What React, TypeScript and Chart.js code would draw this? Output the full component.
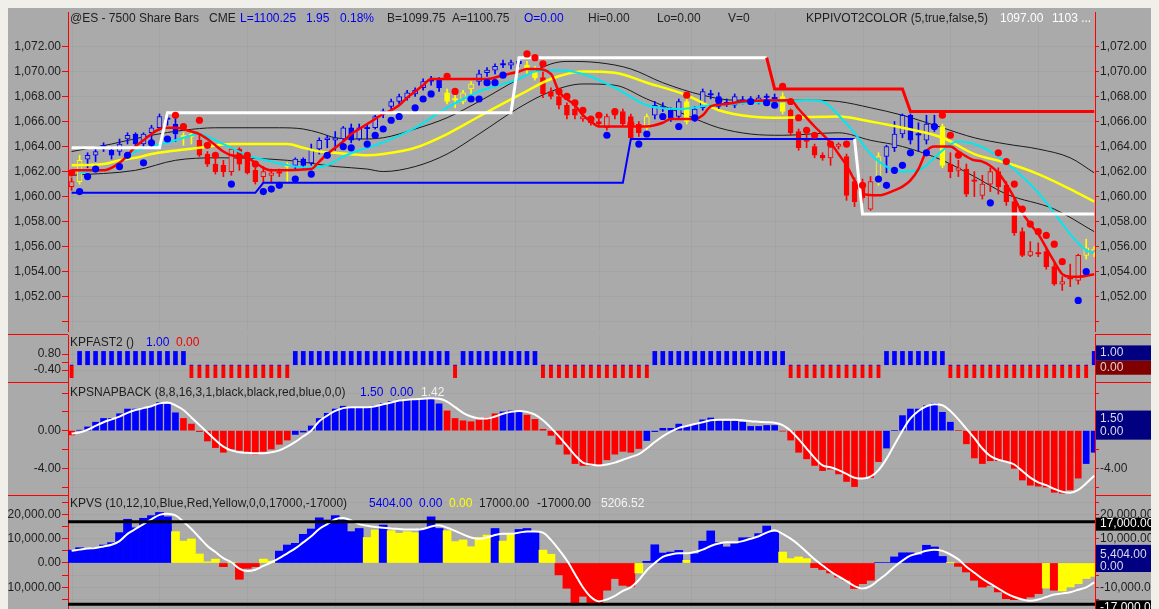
import React, { useEffect, useRef } from 'react';
import { Chart, registerables } from 'chart.js';
Chart.register(...registerables);

// ---------------- data ----------------
const candleOpen = [1060.8,1061.2,1063.0,1063.3,1064.0,1063.7,1063.6,1064.6,1065.0,1064.2,
 1065.1,1065.5,1066.2,1065.8,1064.8,1065.0,1064.5,1063.4,1062.6,1062.5,
 1062.0,1063.8,1063.2,1062.1,1061.6,1061.7,1061.9,1062.4,1062.5,1063.0,
 1062.7,1063.8,1064.55,1064.5,1064.6,1065.5,1064.6,1065.45,1065.5,1066.75,
 1067.2,1067.6,1067.9,1068.2,1068.7,1069.25,1069.3,1068.3,1067.75,1067.6,
 1068.6,1069.2,1069.9,1070.1,1070.55,1070.5,1070.8,1070.5,1070.0,1069.5,
 1068.4,1068.0,1067.3,1067.0,1066.2,1066.2,1066.0,1065.5,1066.5,1066.8,
 1066.4,1065.8,1065.5,1066.5,1067.2,1066.9,1066.4,1067.6,1066.2,1067.1,
 1068.15,1068.0,1067.45,1067.3,1067.65,1067.65,1067.6,1067.95,1067.85,1068.0,
 1066.9,1065.2,1064.45,1064.0,1063.3,1063.1,1064.0,1063.2,1061.2,1061.1,
 1059.0,1061.2,1063.2,1063.9,1065.0,1066.5,1064.95,1064.5,1065.8,1065.6,
 1062.6,1062.1,1062.2,1061.25,1060.1,1061.0,1062.0,1060.9,1059.6,1057.2,
 1055.3,1055.45,1055.6,1054.4,1053.0,1053.45,1053.3,1055.3,1055.5];
const candleHigh = [1061.5,1063.3,1063.5,1063.9,1064.3,1064.0,1064.6,1065.1,1065.1,1065.1,
 1065.7,1066.6,1066.6,1066.4,1065.1,1065.2,1064.9,1063.6,1063.1,1062.9,
 1063.9,1063.9,1063.4,1062.3,1062.4,1062.2,1062.2,1062.7,1063.1,1063.1,
 1064.2,1064.7,1064.9,1065.2,1065.6,1065.8,1065.8,1065.8,1066.5,1067.0,
 1067.8,1068.2,1068.5,1068.7,1069.4,1069.6,1069.5,1068.6,1068.2,1068.5,
 1069.2,1070.1,1070.3,1070.6,1070.9,1070.9,1071.0,1070.8,1070.4,1070.0,
 1068.7,1068.2,1067.5,1067.3,1066.6,1066.4,1066.2,1066.6,1067.0,1067.0,
 1066.6,1066.0,1066.6,1067.6,1067.5,1067.1,1067.8,1067.8,1067.2,1068.6,
 1068.5,1068.3,1067.8,1068.2,1068.0,1068.0,1068.1,1068.2,1068.2,1068.3,
 1067.0,1065.4,1065.0,1064.2,1063.5,1064.1,1064.3,1063.4,1061.5,1061.4,
 1061.6,1063.5,1064.1,1066.0,1066.6,1066.6,1065.9,1066.5,1066.5,1065.8,
 1063.5,1062.9,1062.6,1062.0,1061.7,1062.3,1062.3,1061.2,1059.9,1057.5,
 1056.4,1056.3,1055.9,1054.7,1053.6,1054.6,1055.4,1056.6,1056.0];
const candleLow = [1060.5,1061.0,1062.3,1062.8,1063.6,1063.0,1063.3,1064.2,1064.0,1064.0,
 1064.5,1065.3,1065.7,1064.4,1064.1,1064.2,1063.2,1062.4,1061.8,1061.6,
 1061.7,1062.1,1061.8,1061.0,1061.1,1061.2,1061.6,1061.2,1062.2,1062.2,
 1062.5,1063.4,1063.9,1063.7,1064.5,1064.3,1064.5,1064.6,1065.4,1066.3,
 1067.0,1067.4,1067.7,1068.0,1068.5,1068.9,1068.4,1067.4,1067.1,1067.4,
 1068.2,1068.9,1069.6,1069.8,1070.3,1070.2,1070.4,1069.8,1069.3,1067.9,
 1067.8,1067.0,1066.2,1066.2,1066.0,1065.7,1065.6,1065.3,1066.2,1065.6,
 1064.5,1064.8,1065.2,1066.2,1066.8,1066.0,1066.2,1065.8,1066.0,1066.9,
 1067.8,1067.0,1067.2,1067.1,1067.4,1067.4,1067.4,1067.7,1067.6,1066.6,
 1064.9,1063.7,1063.9,1063.1,1062.9,1062.5,1063.8,1059.7,1059.2,1059.5,
 1058.9,1060.9,1061.9,1063.6,1064.7,1064.2,1063.6,1064.2,1065.2,1062.3,
 1061.5,1061.6,1060.0,1060.0,1059.8,1060.4,1060.2,1059.3,1056.9,1055.2,
 1055.2,1055.2,1054.2,1052.9,1052.5,1052.8,1053.0,1055.0,1055.2];
const candleClose = [1061.2,1062.9,1063.3,1063.6,1064.05,1063.3,1064.2,1064.9,1064.2,1065.0,
 1065.5,1066.4,1066.25,1065.0,1064.85,1064.8,1063.3,1062.6,1062.0,1062.0,
 1063.8,1062.6,1061.9,1061.2,1062.0,1061.9,1061.95,1062.6,1063.0,1062.5,
 1063.8,1064.5,1064.7,1064.7,1065.5,1064.5,1065.5,1065.5,1066.4,1066.8,
 1067.6,1068.0,1068.3,1068.5,1069.2,1069.3,1068.7,1067.6,1067.8,1068.3,
 1069.0,1069.8,1070.1,1070.4,1070.6,1070.7,1070.6,1070.1,1069.5,1068.2,
 1068.0,1067.3,1066.5,1066.5,1066.4,1065.9,1065.8,1066.4,1066.7,1065.8,
 1064.7,1065.1,1066.4,1067.3,1067.0,1066.3,1067.6,1066.0,1067.0,1068.4,
 1068.2,1067.2,1067.5,1068.0,1067.7,1067.7,1067.9,1068.0,1067.9,1066.8,
 1065.1,1063.9,1064.5,1063.3,1063.1,1064.0,1064.2,1060.1,1059.6,1059.9,
 1061.2,1063.2,1064.0,1065.0,1066.5,1064.5,1065.0,1065.8,1065.5,1062.5,
 1062.0,1062.3,1060.2,1061.3,1061.0,1062.0,1060.8,1059.6,1057.1,1055.3,
 1055.6,1055.5,1054.4,1053.0,1053.2,1053.5,1055.3,1055.9,1055.8];
const candleColor = ('rybbbbbbbb' + 'bbbbyyrrrr' + 'rrrrrrrybb' + 'bbbbbbbbbb' + 'bbbbbbbyyy' +
  'ybbbbbbyyr' + 'rrrrrrrrrr' + 'rrybbbbybb' + 'bbbbbbbbby' + 'rrrrrrrrrr' + 'rybbbbbbby' +
  'rrrrrrrrrr' + 'rrrrrrryy').split('');

// overlays: [bar, price]
const redTrend = [[0,1062.1],[4,1062.1],[5,1062.3],[6,1062.7],[7,1063.3],[8,1064],[9,1064.5],[10,1065],[11,1065.4],[12,1065.5],[13,1065.5],[15,1065.2],[16,1065],[17,1064.6],[18,1064.1],[19,1063.6],[20,1063.3],[22,1063.1],[23,1062.7],[24,1062.3],[25,1062.1],[30,1062.2],[31,1062.8],[32,1063.4],[33,1063.9],[34,1064.4],[35,1065],[36,1065.4],[37,1065.8],[38,1066.2],[39,1066.6],[40,1066.9],[41,1067.3],[42,1067.9],[43,1068.4],[44,1068.9],[45,1069.4],[52,1069.4],[54,1069.7],[56,1070],[57,1070.2],[58,1070.2],[60,1069.8],[61,1068.4],[63,1067.3],[64,1066.5],[65,1066],[66,1065.6],[72,1065.6],[74,1065.9],[75,1066.2],[78,1066.2],[79,1066.5],[80,1067.2],[82,1067.4],[84,1067.6],[90,1067.7],[91,1067],[93,1065.6],[95,1064.3],[96,1063.4],[97,1062.5],[98,1061.3],[99,1060.2],[101,1060.1],[103,1060.5],[104,1060.8],[105,1061.3],[106,1062.2],[107,1063.6],[108,1064],[110,1064],[111,1063.6],[113,1062.9],[114,1062.8],[116,1061.9],[117,1061],[118,1059.9],[119,1058.7],[120,1057.8],[121,1057],[122,1055.9],[123,1054.8],[124,1053.8],[125,1053.6],[126,1053.6],[128,1053.8]];
const cyanLine = [[1,1061.9],[3,1062.1],[5,1062.3],[6,1062.7],[8,1063.6],[10,1064],[12,1064.3],[14,1064.7],[16,1065],[17,1064.8],[18,1064.5],[20,1063.9],[22,1063.3],[25,1062.8],[28,1062.4],[30,1062.3],[32,1062.5],[34,1063.2],[36,1063.7],[38,1064.1],[43,1065.5],[47,1067.1],[51,1068.4],[56,1069.4],[58,1070],[61,1070.1],[64,1069.8],[68,1068.7],[72,1067.3],[76,1067],[80,1067.3],[85,1067.5],[89,1067.6],[92,1067.7],[94,1067.6],[96,1066.5],[98,1065.1],[100,1063.4],[102,1062.4],[104,1062],[106,1062.1],[108,1063.1],[110,1064.2],[111,1064.4],[113,1064.2],[115,1063.6],[117,1062.7],[119,1061.6],[121,1060.3],[123,1058.7],[125,1057],[127,1055.7],[128,1055.5]];
const yellowLine = [[0,1062.5],[4,1062.6],[6,1062.9],[8,1063.1],[10,1063.4],[12,1063.6],[16,1063.9],[20,1064.2],[25,1064.2],[27,1064.2],[29,1063.9],[31,1063.6],[33,1063.5],[37,1063.3],[39,1063.4],[43,1063.9],[47,1065],[51,1066.4],[56,1068.1],[60,1069.4],[64,1070],[68,1069.9],[72,1069.1],[77,1068.1],[81,1066.9],[85,1066.4],[89,1066.3],[96,1066.4],[100,1066],[104,1065.5],[109,1064.7],[113,1063.4],[117,1062.7],[121,1061.8],[125,1060.6],[128,1059.6]];
const bandUpper = [[0,1063.6],[5,1064.2],[10,1064.9],[14,1065.3],[18,1065.5],[26,1065.5],[29,1065.4],[31,1065.1],[33,1064.7],[36,1064.6],[39,1064.7],[43,1065.4],[47,1066.3],[51,1067.6],[56,1069.4],[60,1070.6],[62,1070.8],[66,1070.7],[70,1070.2],[74,1069.1],[79,1068.1],[83,1067.7],[88,1067.7],[92,1067.7],[96,1067.6],[100,1067.1],[104,1066.5],[109,1065.5],[113,1064.7],[117,1064.2],[121,1063.8],[125,1063.1],[128,1061.9]];
const bandLower = [[0,1061.7],[8,1062.1],[13,1062.9],[18,1063.1],[27,1062.9],[33,1062.4],[37,1062.2],[39,1062],[43,1062.4],[47,1063.4],[51,1065],[56,1067.1],[60,1068.4],[64,1069],[68,1068.9],[72,1067.8],[77,1066.5],[81,1065.5],[85,1065],[89,1064.9],[96,1065.1],[100,1064.5],[104,1064],[109,1062.9],[113,1061.6],[117,1060.2],[123,1059],[128,1057.2]];
const whiteStepA = [[0,1063.9],[11,1063.9],[12,1066.7],[55,1066.7],[56,1071.1],[87,1071.1]];
const whiteStepB = [[98,1064.6],[99,1058.6],[128,1058.6]];
const blueStep = [[0,1060.3],[23,1060.3],[24,1061.1],[69,1061.1],[70,1064.6],[98,1064.6]];
const redPivot = [[87,1071.1],[88,1068.6],[104,1068.6],[105,1066.8],[128,1066.8]];
const blueDots = [[1,1060.4],[2,1061.6],[3,1062.2],[6,1062.4],[7,1063.3],[9,1062.7],[10,1064.3],[12,1064.6],[20,1061],[24,1060.4],[25,1060.6],[26,1060.9],[28,1061.4],[30,1061.8],[32,1063.3],[34,1064],[35,1063.9],[37,1064.2],[38,1064.9],[39,1065.4],[40,1066.1],[41,1066.4],[43,1067.1],[44,1067.8],[45,1068.2],[50,1067.8],[51,1067.8],[52,1069.1],[53,1069.1],[54,1069.7],[67,1064.9],[71,1064.2],[72,1065],[74,1066.4],[76,1065.6],[78,1066.3],[81,1067.7],[85,1067.6],[87,1067.5],[88,1067.3],[101,1061.4],[102,1060.9],[103,1062.1],[104,1062.5],[105,1063.5],[107,1063.5],[108,1065.6],[115,1059.5],[126,1051.7],[127,1054]];
const redDots = [[0,1061.9],[13,1066.5],[14,1065.6],[16,1066.1],[17,1064.1],[18,1063.3],[21,1063.2],[22,1063.3],[23,1062.6],[47,1069.6],[48,1068.4],[57,1071.4],[58,1071.1],[59,1070.6],[61,1068.4],[62,1068],[63,1067.5],[64,1066.9],[65,1066.2],[66,1066.5],[68,1066.8],[70,1065.8],[77,1068.1],[89,1068.8],[90,1067.6],[91,1066.3],[92,1065.3],[93,1064.9],[95,1064.2],[97,1064.2],[99,1060.9],[109,1066.5],[110,1064.9],[111,1063.3],[116,1063.5],[117,1062.8],[118,1061],[119,1059],[120,1057.8],[121,1057.2],[122,1056.9],[123,1056.2],[124,1054.8]];

const fastColor = ('rbbbbbbbbb' + 'bbbbbrrrrr' + 'rrrrrrrrbb' + 'bbbbbbbbbb' + 'bbbbbbbbrb' +
  'bbbbbbbbbr' + 'rrrrrrrrrr' + 'rrrbbbbbbb' + 'bbbbbbbbbb' + 'rrrrrrrrrr' + 'rrbbbbbbbb' +
  'rrrrrrrrrr' + 'rrrrrrrrb').split('');

const snapValues = [-0.45,0.05,0.4,0.9,1.3,1.3,1.8,2.3,2.3,2.4,
 2.6,3.0,2.8,1.9,1.3,0.7,-0.1,-1.1,-1.8,-2.3,
 -1.95,-2.1,-2.3,-2.5,-2.2,-1.95,-1.45,-1.0,-0.4,-0.15,
 0.5,1.3,1.85,2.3,2.6,2.5,2.5,2.5,2.65,2.9,
 3.1,3.25,3.35,3.25,3.35,3.35,2.85,2.1,1.3,1.05,
 0.95,1.15,1.4,1.8,2.0,2.1,2.0,1.65,1.2,0.15,
 -0.5,-1.45,-2.5,-3.5,-3.7,-3.7,-3.7,-3.1,-2.5,-2.2,
 -2.3,-1.9,-1.05,-0.1,0.25,0.25,0.7,0.5,0.65,1.15,
 1.35,1.05,1.0,1.0,0.9,0.45,0.45,0.55,0.55,-0.05,
 -1.0,-2.3,-3.0,-3.7,-4.25,-4.1,-4.6,-5.4,-5.95,-5.0,
 -5.0,-3.3,-1.85,0,1.6,2.3,2.3,2.65,2.9,1.95,
 0.9,0,-1.4,-2.9,-3.5,-3.2,-3.2,-3.3,-4.0,-5.25,
 -5.8,-5.9,-6.0,-6.55,-6.65,-6.3,-5.05,-3.5,-2.3];
const snapColor = ('rbbbbbbbbb' + 'bbbbrrrrrr' + 'rrrrrrrrbb' + 'bbbbbbbbbb' + 'bbbbbbbrrr' +
  'rrrrbbbrrr' + 'rrrrrrrrrr' + 'rrbbbbbbbb' + 'bbbbbbbbbr' + 'rrrrrrrrrr' + 'rrbbbbbbbb' +
  'brrrrrrrrr' + 'rrrrrrrbb').split('');
const snapSignal = [-0.3,-0.2,0.1,0.5,0.9,1.2,1.5,1.9,2.2,2.4,
 2.6,2.9,3.0,2.7,2.2,1.4,0.6,-0.2,-1.0,-1.7,
 -2.1,-2.3,-2.35,-2.4,-2.4,-2.3,-2.1,-1.7,-1.2,-0.6,
 0.0,1.0,1.6,2.1,2.4,2.5,2.5,2.5,2.6,2.8,
 3.0,3.2,3.3,3.35,3.4,3.45,3.4,3.1,2.5,1.9,
 1.5,1.3,1.3,1.5,1.8,2.0,2.1,2.0,1.7,1.1,
 0.3,-0.6,-1.6,-2.6,-3.4,-3.6,-3.7,-3.6,-3.4,-3.1,
 -2.8,-2.5,-1.9,-1.2,-0.6,-0.1,0.3,0.5,0.7,0.9,
 1.1,1.15,1.15,1.15,1.1,1.0,0.95,0.9,0.85,0.6,
 0.0,-0.9,-1.9,-2.9,-3.7,-3.9,-4.2,-4.6,-5.0,-5.1,
 -4.9,-4.2,-3.0,-1.5,0.0,1.3,2.1,2.6,2.8,2.7,
 2.1,1.2,0.2,-0.8,-1.9,-2.7,-3.1,-3.3,-3.6,-4.3,
 -5.0,-5.5,-5.8,-6.2,-6.5,-6.6,-6.3,-5.6,-4.8];

// KPVS in thousands
const kpvsK = [5.3,6.3,6.0,6.4,7.4,8.4,12.5,18,14.5,18.4,
 19.5,20.8,19,12.9,9,9.9,3.7,0.5,1.6,-1.5,
 0.2,-6.7,-2.2,-1.5,1.6,0.8,4.9,7.4,8.1,11.8,
 14,18.6,17.7,19.5,17.7,12.9,14.2,10.5,13.6,15.6,
 13.3,12.2,12.9,12.5,14.2,19,14.2,13.3,8.8,9.5,
 6.7,10.5,11.5,14.2,9,11.8,13.8,14.2,12.9,5.3,
 3.6,-4.9,-10.4,-17.3,-13.7,-16.4,-16.4,-11.2,-6.4,-9.2,
 -9.6,-4.1,0.7,7.5,4.1,4.5,5.2,1.1,3.8,9,
 13.2,8.4,6.6,7.9,10.4,10.4,12.1,15.2,12.7,4.5,
 1.8,2.5,1.8,-1.9,-2.7,-4.1,-5.8,-7.1,-10.5,-8.5,
 -7.1,0.2,0.2,2.5,4.2,4.2,3.4,7.3,6.6,2.7,
 0.3,-1.4,-3.7,-7.1,-9.9,-9.2,-11.9,-14.7,-15.1,-15.1,
 -14,-12.6,-10.3,-11.2,-11.5,-9.9,-8.5,-6.4,-5.5];
const kpvsColor = ('bbbbbbbbbb' + 'bbbyyyyyyr' + 'yrrryybbbb' + 'bbbbbbbyyb' + 'yyyybbbyyy' +
  'yyybyybbby' + 'yrrrrrrrrr' + 'rybbbbbybb' + 'bbbbbbbbby' + 'yyyrrrrrrr' + 'rbbbbbbbbb' +
  'yrrrrrrrrr' + 'rryryyyyy').split('');
const kpvsSignalK = [5.0,5.5,6.0,6.2,6.8,7.5,9.0,12.0,14.0,16.0,
 18.0,19.8,20.3,19.6,17.0,14.0,10.5,7.0,4.5,2.0,
 0.3,-2.3,-3.3,-2.8,-1.2,0.3,2.0,4.0,6.0,8.5,
 11.0,14.0,16.0,18.0,18.5,17.5,16.0,15.3,14.8,14.5,
 14.2,14.0,13.8,13.8,14.0,15.0,15.5,14.5,13.2,11.8,
 10.5,10.0,10.5,11.5,12.0,12.0,12.5,13.0,13.0,12.5,
 9.5,5.5,1.0,-4.5,-10.0,-14.0,-15.8,-15.0,-13.5,-11.5,
 -10.0,-7.0,-3.0,0.0,2.5,3.5,4.0,4.0,4.5,5.5,
 7.0,8.0,8.5,8.5,9.0,10.0,11.0,12.5,13.5,12.0,
 10.0,7.5,4.5,1.5,-1.0,-3.5,-5.5,-7.5,-9.5,-10.5,
 -9.5,-7.0,-4.5,-1.5,1.0,3.0,4.0,5.0,5.5,5.0,
 3.5,1.5,-1.5,-4.0,-6.5,-8.5,-10.5,-12.5,-14.0,-15.0,
 -15.5,-15.0,-14.0,-13.0,-12.5,-12.0,-11.0,-10.0,-8.0];
const kpvsLimitsK = [17, -17];

const priceTicks = [1050,1052,1054,1056,1058,1060,1062,1064,1066,1068,1070,1072];
const priceLabeled = [1052,1054,1056,1058,1060,1062,1064,1066,1068,1070,1072];
const fastTicks = [0.8, 0.2, -0.4];
const fastLabeled = [0.8, -0.4];
const snapTicks = [4, 2, 0, -2, -4, -6];
const snapLabeled = [0, -4];
const kpvsTicks = [25, 20, 15, 10, 5, 0, -5, -10, -15];
const kpvsLabeled = [20, 10, 0, -10];

// ---------------- styles ----------------
const BG = '#aaaaaa';
const BLUE = '#0000ff';
const RED = '#ff0000';
const YEL = '#ffff00';
const TXT = '#1e1e1e';
const TBLUE = '#0000ee';
const GRID = 'rgba(0,0,0,0.035)';
const FONT = 'Arial, "Liberation Sans", sans-serif';
const X_MIN = -0.45;
const X_MAX = 128.1;
const GRID_BARS = [0, 11, 22, 33, 44, 55.5, 66, 77.5, 88, 99, 110, 121];
const W = 1151;

const colorOf = (c: string) => (c === 'b' ? BLUE : c === 'r' ? RED : YEL);
const pts = (pairs: number[][]) => pairs.map(([x, y]) => ({ x, y }));
const idx = candleOpen.map((_, i) => i);
const fmt = (v: number) => v.toLocaleString('en-US', { minimumFractionDigits: 2, maximumFractionDigits: 2 });

function axes(min: number, max: number, ticks: number[], labeled: number[], scaleLabel = 1) {
  const common: any = {
    type: 'linear',
    min,
    max,
    afterBuildTicks: (s: any) => { s.ticks = ticks.map((value) => ({ value })); },
    ticks: {
      autoSkip: false,
      color: TXT,
      font: { family: FONT, size: 12 },
      padding: 1,
      callback: (v: number) => (labeled.includes(v) ? fmt(v * scaleLabel) : ''),
    },
    border: { color: RED, width: 1 },
  };
  return {
    x: { type: 'linear', min: X_MIN, max: X_MAX, display: false, offset: false },
    yL: {
      ...common,
      position: 'left',
      grid: { color: GRID, tickColor: RED, tickLength: 6 },
      afterFit: (s: any) => { s.width = 60; s.paddingTop = 0; s.paddingBottom = 0; },
    },
    yR: {
      ...common,
      position: 'right',
      grid: { drawOnChartArea: false, tickColor: RED, tickLength: 4 },
      afterFit: (s: any) => { s.width = W - 1087; s.paddingTop = 0; s.paddingBottom = 0; },
    },
  };
}

type Seg = { t: string; c: string; x: number };
type Box = { fill: string; color: string; v1: number; d1: number; v2: number; d2: number; lines: { t: string; v: number; d: number }[] };

function makeDecor(titles: Seg[], titleY: number, boxes: Box[], sepBottom: boolean) {
  return {
    id: 'decor',
    beforeDatasetsDraw(chart: any) {
      const { ctx, chartArea: a, scales } = chart;
      ctx.save();
      ctx.strokeStyle = GRID;
      ctx.lineWidth = 1;
      for (const b of GRID_BARS) {
        const x = Math.round(scales.x.getPixelForValue(b)) + 0.5;
        ctx.beginPath();
        ctx.moveTo(x, a.top);
        ctx.lineTo(x, a.bottom);
        ctx.stroke();
      }
      ctx.restore();
    },
    afterDraw(chart: any) {
      const { ctx, chartArea: a, width, height } = chart;
      const ys = chart.scales.yL;
      ctx.save();
      ctx.font = `12px ${FONT}`;
      ctx.textBaseline = 'middle';
      ctx.textAlign = 'left';
      for (const s of titles) {
        ctx.fillStyle = s.c;
        ctx.fillText(s.t, s.x, titleY);
      }
      for (const b of boxes) {
        const top = ys.getPixelForValue(b.v1) + b.d1;
        const bottom = ys.getPixelForValue(b.v2) + b.d2;
        ctx.fillStyle = b.fill;
        ctx.fillRect(a.right + 1, top, width - a.right - 1, bottom - top);
        ctx.fillStyle = b.color;
        for (const l of b.lines) ctx.fillText(l.t, a.right + 5, ys.getPixelForValue(l.v) + l.d);
      }
      if (sepBottom) {
        ctx.strokeStyle = RED;
        ctx.lineWidth = 1;
        ctx.beginPath();
        ctx.moveTo(0, height - 0.5);
        ctx.lineTo(a.left, height - 0.5);
        ctx.moveTo(a.right, height - 0.5);
        ctx.lineTo(width, height - 0.5);
        ctx.stroke();
      }
      ctx.restore();
    },
  };
}

const baseOpts = (scales: any) => ({
  responsive: false,
  maintainAspectRatio: false,
  animation: false as const,
  events: [],
  layout: { padding: 0 },
  plugins: { legend: { display: false }, tooltip: { enabled: false } },
  scales,
});

const lineDs = (data: number[][], color: string, width: number, order: number, smooth: boolean) => ({
  type: 'line' as const,
  data: pts(data),
  borderColor: color,
  borderWidth: width,
  pointRadius: 0,
  cubicInterpolationMode: smooth ? 'monotone' : 'default',
  tension: 0,
  order,
  yAxisID: 'yL',
});

const dotDs = (data: number[][], color: string) => ({
  type: 'line' as const,
  data: pts(data),
  showLine: false,
  pointRadius: 3.6,
  pointBackgroundColor: color,
  pointBorderWidth: 0,
  order: 1,
  yAxisID: 'yL',
});

function priceConfig(): any {
  const hollow = (i: number) => candleClose[i] - candleOpen[i] > 0.07;
  const cross = (i: number) => Math.abs(candleClose[i] - candleOpen[i]) <= 0.07;
  const body = idx.map((i) => {
    const lo = Math.min(candleOpen[i], candleClose[i]);
    const hi = Math.max(candleOpen[i], candleClose[i]);
    const m = (lo + hi) / 2;
    return { x: i, y: cross(i) ? [m - 0.05, m + 0.05] : [lo, hi] };
  });
  return {
    type: 'bar',
    data: {
      datasets: [
        lineDs(bandUpper, '#1a1a1a', 1, 14, true),
        lineDs(bandLower, '#1a1a1a', 1, 14, true),
        {
          type: 'bar', data: idx.map((i) => ({ x: i, y: [candleLow[i], candleHigh[i]] })),
          backgroundColor: idx.map((i) => colorOf(candleColor[i])), barThickness: 1, grouped: false, order: 13, yAxisID: 'yL',
        },
        {
          type: 'bar', data: body,
          backgroundColor: idx.map((i) => (hollow(i) ? BG : colorOf(candleColor[i]))),
          borderColor: idx.map((i) => colorOf(candleColor[i])),
          borderWidth: idx.map((i) => (cross(i) ? 0 : 1)),
          borderSkipped: false, barThickness: 5, grouped: false, order: 12, yAxisID: 'yL',
        },
        lineDs(yellowLine, YEL, 2.5, 11, true),
        lineDs(cyanLine, '#00e8f0', 2, 10, true),
        lineDs(redTrend, RED, 2.5, 9, true),
        lineDs(blueStep, BLUE, 2, 8, false),
        lineDs(whiteStepA, '#ffffff', 3, 7, false),
        lineDs(whiteStepB, '#ffffff', 3, 7, false),
        lineDs(redPivot, RED, 3, 6, false),
        dotDs(blueDots, BLUE),
        dotDs(redDots, RED),
      ],
    },
    options: baseOpts(axes(1049.26, 1074.75, priceTicks, priceLabeled)),
    plugins: [makeDecor([
      { t: '@ES - 7500 Share Bars', c: TXT, x: 62 },
      { t: 'CME', c: TXT, x: 201 },
      { t: 'L=1100.25', c: TBLUE, x: 232 },
      { t: '1.95', c: TBLUE, x: 298 },
      { t: '0.18%', c: TBLUE, x: 332 },
      { t: 'B=1099.75', c: TXT, x: 379 },
      { t: 'A=1100.75', c: TXT, x: 444 },
      { t: 'O=0.00', c: TBLUE, x: 516 },
      { t: 'Hi=0.00', c: TXT, x: 580 },
      { t: 'Lo=0.00', c: TXT, x: 649 },
      { t: 'V=0', c: TXT, x: 720 },
      { t: 'KPPIVOT2COLOR (5,true,false,5)', c: TXT, x: 798 },
      { t: '1097.00', c: '#ffffff', x: 992 },
      { t: '1103 ...', c: '#ffffff', x: 1044 },
    ], 11, [], true)],
  };
}

function fastConfig(): any {
  return {
    type: 'bar',
    data: {
      datasets: [{
        type: 'bar', data: idx.map((i) => ({ x: i, y: fastColor[i] === 'b' ? 1 : -1 })),
        backgroundColor: idx.map((i) => colorOf(fastColor[i])),
        borderColor: BLUE,
        borderWidth: idx.map((i) => (fastColor[i] === 'b' ? 0 : { top: 1, bottom: 0, left: 0, right: 0 })),
        borderSkipped: false,
        barThickness: 4, grouped: false, yAxisID: 'yL',
      }],
    },
    options: baseOpts(axes(-1.37, 2.23, fastTicks, fastLabeled)),
    plugins: [makeDecor([
      { t: 'KPFAST2 ()', c: TXT, x: 62 },
      { t: '1.00', c: TBLUE, x: 138 },
      { t: '0.00', c: '#ee0000', x: 168 },
    ], 8, [
      { fill: '#000080', color: '#d8d8e8', v1: 1, d1: -6, v2: 0, d2: -4, lines: [{ t: '1.00', v: 1, d: 1.5 }] },
      { fill: '#800000', color: '#e0d0d0', v1: 0, d1: -4, v2: 0, d2: 10, lines: [{ t: '0.00', v: 0, d: 2.5 }] },
    ], true)],
  };
}

function snapConfig(): any {
  return {
    type: 'bar',
    data: {
      datasets: [
        lineDs(snapSignal.map((v, i) => [i, v]), '#ffffff', 2, 1, true),
        {
          type: 'bar', data: idx.map((i) => ({ x: i, y: snapValues[i] })),
          backgroundColor: idx.map((i) => colorOf(snapColor[i])), barThickness: 6, grouped: false, order: 5, yAxisID: 'yL',
        },
      ],
    },
    options: baseOpts(axes(-6.95, 5.07, snapTicks, snapLabeled)),
    plugins: [makeDecor([
      { t: 'KPSNAPBACK (8,8,16,3,1,black,black,red,blue,0,0)', c: TXT, x: 62 },
      { t: '1.50', c: TBLUE, x: 352 },
      { t: '0.00', c: TBLUE, x: 382 },
      { t: '1.42', c: '#f0f0f0', x: 413 },
    ], 10, [
      { fill: '#000080', color: '#d8d8e8', v1: 1.5, d1: -6, v2: 0, d2: 9, lines: [{ t: '1.50', v: 1.5, d: 2.5 }, { t: '0.00', v: 0, d: 1 }] },
    ], true)],
  };
}

function kpvsConfig(): any {
  return {
    type: 'bar',
    data: {
      datasets: [
        lineDs([[-1, kpvsLimitsK[0]], [130, kpvsLimitsK[0]]], '#000000', 3, 0, false),
        lineDs([[-1, kpvsLimitsK[1]], [130, kpvsLimitsK[1]]], '#000000', 3, 0, false),
        lineDs(kpvsSignalK.map((v, i) => [i, v]), '#ffffff', 2, 1, true),
        {
          type: 'bar', data: idx.map((i) => ({ x: i, y: kpvsK[i] })),
          backgroundColor: idx.map((i) => colorOf(kpvsColor[i])), barThickness: 8, grouped: false, order: 5, yAxisID: 'yL',
        },
      ],
    },
    options: baseOpts(axes(-18.93, 27.57, kpvsTicks, kpvsLabeled, 1000)),
    plugins: [makeDecor([
      { t: 'KPVS (10,12,10,Blue,Red,Yellow,0,0,17000,-17000)', c: TXT, x: 62 },
      { t: '5404.00', c: TBLUE, x: 361 },
      { t: '0.00', c: TBLUE, x: 411 },
      { t: '0.00', c: YEL, x: 441 },
      { t: '17000.00', c: TXT, x: 471 },
      { t: '-17000.00', c: TXT, x: 529 },
      { t: '5206.52', c: '#f4f4f4', x: 593 },
    ], 8, [
      { fill: '#000000', color: '#ffffff', v1: 17, d1: -4, v2: 17, d2: 9, lines: [{ t: '17,000.00', v: 17, d: 2.5 }] },
      { fill: '#000080', color: '#d8d8e8', v1: 5.404, d1: -5, v2: 0, d2: 9, lines: [{ t: '5,404.00', v: 5.404, d: 5 }, { t: '0.00', v: 0, d: 4 }] },
      { fill: '#000000', color: '#ffffff', v1: -17, d1: -4, v2: -17, d2: 12, lines: [{ t: '-17,000.00', v: -17, d: 3 }] },
    ], false)],
  };
}

export default function App() {
  const r1 = useRef<HTMLCanvasElement>(null);
  const r2 = useRef<HTMLCanvasElement>(null);
  const r3 = useRef<HTMLCanvasElement>(null);
  const r4 = useRef<HTMLCanvasElement>(null);

  useEffect(() => {
    document.body.style.background = '#f0efe9';
    const charts = [
      new Chart(r1.current as HTMLCanvasElement, priceConfig()),
      new Chart(r2.current as HTMLCanvasElement, fastConfig()),
      new Chart(r3.current as HTMLCanvasElement, snapConfig()),
      new Chart(r4.current as HTMLCanvasElement, kpvsConfig()),
    ];
    return () => charts.forEach((c) => c.destroy());
  }, []);

  const cv = (top: number, h: number): React.CSSProperties => ({ position: 'absolute', left: 0, top, width: W, height: h });
  return (
    <div style={{ position: 'relative', width: W, height: 601, background: BG, overflow: 'hidden' }}>
      <canvas ref={r1} width={W} height={327} style={cv(0, 327)} />
      <canvas ref={r2} width={W} height={48} style={cv(327, 48)} />
      <canvas ref={r3} width={W} height={113} style={cv(375, 113)} />
      <canvas ref={r4} width={W} height={113} style={cv(488, 113)} />
    </div>
  );
}
